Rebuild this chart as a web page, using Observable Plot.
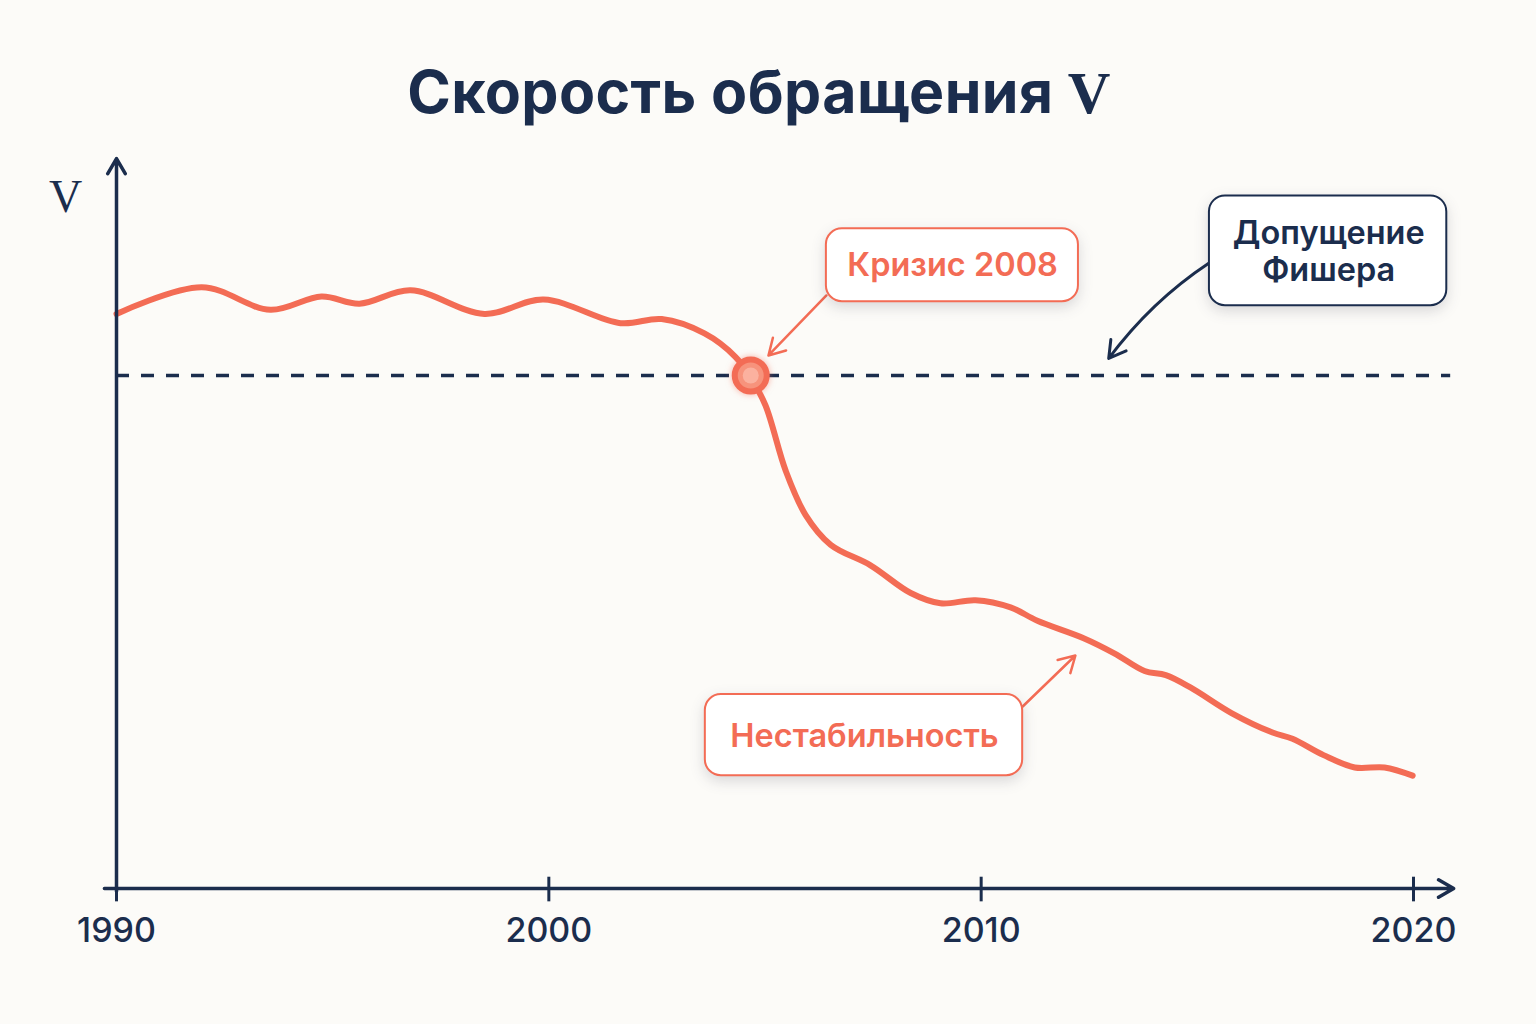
<!DOCTYPE html>
<html><head><meta charset="utf-8">
<script src="https://cdn.jsdelivr.net/npm/d3@7"></script>
<script src="https://cdn.jsdelivr.net/npm/@observablehq/plot@0.6"></script>
<style>
html,body{margin:0;padding:0;background:#fcfbf8;}
#title{height:140px;box-sizing:border-box;padding-top:60px;padding-right:18px;text-align:center;font:700 59px Inter,"Noto Sans",sans-serif;line-height:64px;color:#1b2d4d;letter-spacing:0.4px;}
#title .v{font-family:"Liberation Serif","DejaVu Serif",serif;font-weight:700;}
#chart svg{display:block;}
</style>
</head><body>
<div id="title">Скорость обращения <span class="v">V</span></div>
<div id="chart"></div>
<script>
// ---- data ----
const years  = [1990.00,1991.97,1993.56,1994.74,1995.62,1996.80,1998.51,1999.88,2001.66,2002.61,2003.60,2004.32,2004.67,2005.01,2005.48,2005.94,2006.52,2007.44,2008.37,2009.06,2009.87,2010.68,2011.30,2012.37,2013.09,2013.78,2014.27,2014.84,2015.79,2016.74,2017.20,2017.92,2018.64,2019.33,2019.98];
const velocity = [5.60,5.86,5.64,5.77,5.70,5.83,5.60,5.74,5.51,5.55,5.41,5.18,4.98,4.71,4.07,3.64,3.35,3.15,2.88,2.78,2.81,2.74,2.61,2.44,2.29,2.12,2.08,1.96,1.71,1.52,1.46,1.30,1.18,1.18,1.10];
const fisherLevel = 5.0;
const crisisYear = 2004.67;
const tickYears = [1990, 2000, 2010, 2020];
const labels = {crisis: "Кризис 2008", fisher: "Допущение\nФишера", instability: "Нестабильность", axis: "V"};

const series = years.map((x, i) => ({x, y: velocity[i]}));

// ---- style / layout ----
const NAVY = "#1b2d4d", CORAL = "#f36c55";
const FONT = "Inter, 'Noto Sans', sans-serif";
const shadow = "drop-shadow(0px 5px 7px rgba(40,40,60,0.16))";

const boxes = [
  {x1: 2006.42, x2: 2012.25, y1: 5.72, y2: 6.43, stroke: CORAL},
  {x1: 2015.28, x2: 2020.77, y1: 5.68, y2: 6.75, stroke: NAVY},
  {x1: 2003.62, x2: 2010.96, y1: 1.10, y2: 1.89, stroke: CORAL}
];
const boxTexts = [
  {x: 2009.34, y: 6.09, t: labels.crisis, c: CORAL},
  {x: 2018.04, y: 6.22, t: labels.fisher, c: NAVY},
  {x: 2007.30, y: 1.50, t: labels.instability, c: CORAL}
];

const chart = Plot.plot({
  width: 1536, height: 884,
  marginLeft: 116, marginRight: 123, marginTop: 18, marginBottom: 136,
  style: {background: "transparent", fontFamily: FONT},
  x: {domain: [1990, 2020], axis: null},
  y: {domain: [0, 7.115], axis: null},
  marks: [
    // Fisher assumption (dashed)
    Plot.ruleY([fisherLevel], {x1: 1990, x2: 2020.86, stroke: NAVY, strokeWidth: 3.6, strokeDasharray: "13,12"}),
    // velocity line
    Plot.line(series, {x: "x", y: "y", curve: "catmull-rom", stroke: CORAL, strokeWidth: 6, strokeLinecap: "round"}),
    // axes
    Plot.arrow([0], {x1: 1989.72, x2: 2020.93, y1: 0, y2: 0, stroke: NAVY, strokeWidth: 3.5, headLength: 7.5}),
    Plot.arrow([0], {x1: 1990, x2: 1990, y1: -0.03, y2: 7.115, stroke: NAVY, strokeWidth: 3.5, headLength: 7.5}),
    Plot.ruleX(tickYears, {x: d => d, y1: -0.13, y2: 0.11, stroke: NAVY, strokeWidth: 3}),
    Plot.text(tickYears, {x: d => d, y: 0, dy: 43, text: d => String(d), fill: NAVY, fontSize: 34, fontWeight: 500, lineAnchor: "middle"}),
    Plot.text([labels.axis], {x: 1990, y: 6.735, dx: -51, text: d => d, fill: NAVY, fontSize: 46, fontFamily: "'Liberation Serif','DejaVu Serif',serif", lineAnchor: "middle"}),
    // crisis point
    Plot.dot([{x: crisisYear, y: fisherLevel}], {x: "x", y: "y", r: 16, fill: "#f7937c", stroke: CORAL, strokeWidth: 6, imageFilter: "drop-shadow(0px 0px 3px rgba(243,108,85,0.5))"}),
    Plot.dot([{x: crisisYear, y: fisherLevel}], {x: "x", y: "y", r: 8, fill: "#fbb5a3", fillOpacity: 0.9}),
    // annotation arrows
    Plot.arrow([0], {x1: 2006.42, y1: 5.78, x2: 2005.08, y2: 5.195, stroke: CORAL, strokeWidth: 2.5, headLength: 11}),
    Plot.arrow([0], {x1: 2015.28, y1: 6.10, x2: 2012.95, y2: 5.166, stroke: NAVY, strokeWidth: 3, headLength: 9.5, bend: -10}),
    Plot.arrow([0], {x1: 2010.96, y1: 1.774, x2: 2012.18, y2: 2.271, stroke: CORAL, strokeWidth: 2.5, headLength: 11}),
    // annotation boxes
    Plot.rect(boxes, {x1: "x1", x2: "x2", y1: "y1", y2: "y2", rx: 16, fill: "white", stroke: "stroke", strokeWidth: 2, imageFilter: shadow}),
    Plot.text(boxTexts, {x: "x", y: "y", text: "t", fill: "c", fontSize: 32.5, fontWeight: 600, lineHeight: 1.15, lineAnchor: "middle"})
  ]
});
document.getElementById("chart").appendChild(chart);
</script>
</body></html>
